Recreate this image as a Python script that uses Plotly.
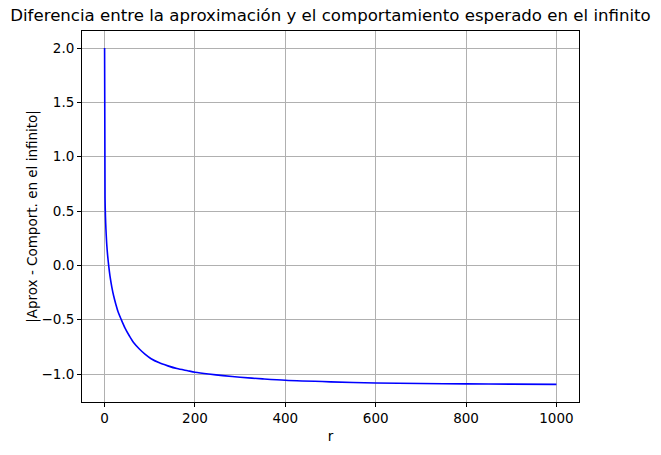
import plotly.graph_objects as go

# Values
r_values = [0, 1, 2, 3, 5, 7, 9, 12, 16, 20, 25, 30, 37, 45, 55, 65, 77, 90, 103, 120,
            140, 160, 184, 200, 230, 262, 300, 350, 400, 500, 600, 700, 800, 900, 1000]
diff_values = [2.0, 0.62, 0.44, 0.33, 0.18, 0.08, 0.0, -0.1, -0.2, -0.28, -0.36, -0.43,
               -0.5, -0.575, -0.65, -0.715, -0.77, -0.82, -0.86, -0.895, -0.925, -0.95,
               -0.97, -0.983, -1.0, -1.015, -1.03, -1.045, -1.058, -1.072, -1.082,
               -1.087, -1.091, -1.093, -1.095]

x_ticks = [0, 200, 400, 600, 800, 1000]
y_ticks = [-1.0, -0.5, 0.0, 0.5, 1.0, 1.5, 2.0]

title_text = "Diferencia entre la aproximación y el comportamiento esperado en el infinito"
x_label = "r"
y_label = "|Aprox - Comport. en el infinito|"

FONT = "DejaVu Sans"

fig = go.Figure()
fig.add_trace(go.Scatter(
    x=r_values, y=diff_values, mode="lines",
    line=dict(color="#0000ff", width=1.6, shape="spline", smoothing=0.8),
    showlegend=False,
))

axis_common = dict(
    showgrid=True, gridcolor="#b0b0b0", gridwidth=0.8,
    showline=True, linecolor="black", linewidth=1, mirror=True,
    ticks="outside", ticklen=4, tickwidth=1, tickcolor="black",
    zeroline=False,
    tickfont=dict(family=FONT, size=13.5, color="black"),
)

fig.update_layout(
    width=661, height=455,
    margin=dict(l=82, r=82, t=31, b=53),
    paper_bgcolor="white", plot_bgcolor="white",
    font=dict(family=FONT, color="black"),
    title=dict(text=title_text, x=0.5, xref="paper", xanchor="center",
               y=1 - 15.5 / 455, yanchor="middle",
               font=dict(family=FONT, size=16.6, color="black")),
    xaxis=dict(range=[-50, 1050], tickvals=x_ticks,
               title=dict(text=x_label, font=dict(family=FONT, size=13.5), standoff=6),
               **axis_common),
    yaxis=dict(range=[-1.2575, 2.1565], tickvals=y_ticks, tickformat=".1f",
               title=dict(text=y_label, font=dict(family=FONT, size=13.5), standoff=0),
               **axis_common),
)

fig.write_html("out.html",
               config={"displayModeBar": False},
               post_script="document.body.style.margin='0';document.body.style.padding='0';")
